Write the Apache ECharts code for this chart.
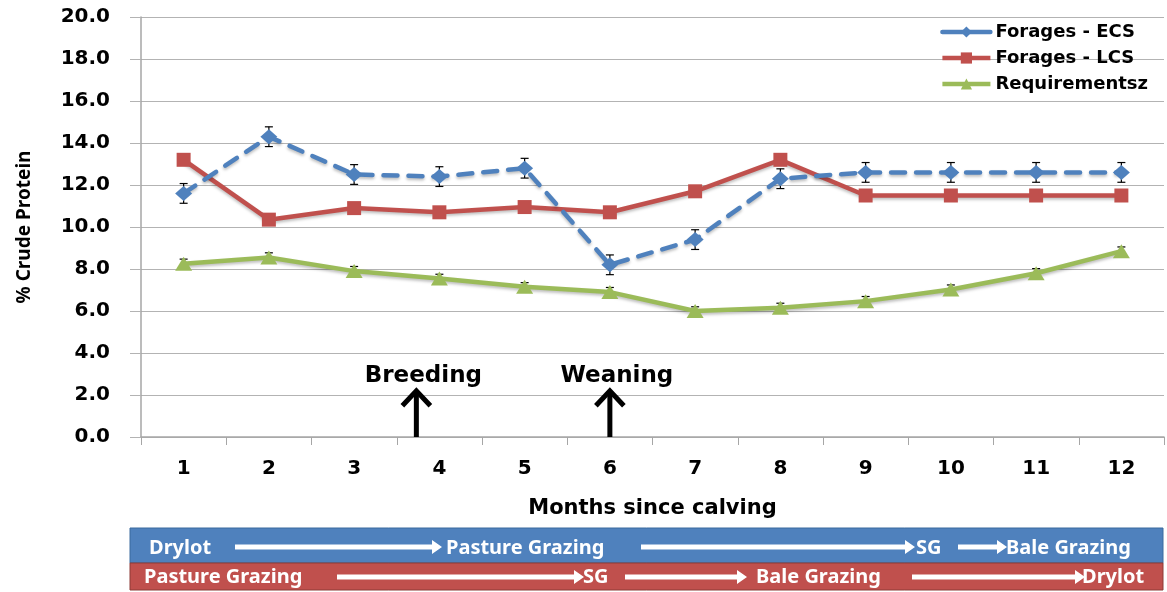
<!DOCTYPE html>
<html>
<head>
<meta charset="utf-8">
<script src="https://cdn.jsdelivr.net/npm/echarts@6/dist/echarts.min.js"></script>
<style>
  html, body { margin: 0; padding: 0; background: #fff; }
  #chart { width: 1167px; height: 592px; }
</style>
</head>
<body>
<div id="chart"></div>
<script>
const months = ["1", "2", "3", "4", "5", "6", "7", "8", "9", "10", "11", "12"]
const yTicks = [0, 2, 4, 6, 8, 10, 12, 14, 16, 18, 20]

const ecsValues = [11.6, 14.3, 12.5, 12.4, 12.8, 8.2, 9.4, 12.3, 12.6, 12.6, 12.6, 12.6]
const ecsErrors = [0.47, 0.47, 0.47, 0.47, 0.47, 0.47, 0.47, 0.47, 0.47, 0.47, 0.47, 0.47]
const lcsValues = [13.2, 10.35, 10.9, 10.7, 10.95, 10.7, 11.7, 13.2, 11.5, 11.5, 11.5, 11.5]
const lcsErrors = [0.12, 0.12, 0.12, 0.12, 0.12, 0.12, 0.12, 0.12, 0.12, 0.12, 0.12, 0.12]
const reqValues = [8.25, 8.55, 7.9, 7.55, 7.15, 6.9, 6.0, 6.15, 6.47, 7.02, 7.8, 8.85]
const reqErrors = [0.22, 0.22, 0.22, 0.2, 0.2, 0.22, 0.2, 0.22, 0.22, 0.22, 0.22, 0.2]

const eventNames = ["Breeding", "Weaning"]
const eventMonths = [3.73, 6]

const ecsStages = ["Drylot", "Pasture Grazing", "SG", "Bale Grazing"]
const lcsStages = ["Pasture Grazing", "SG", "Bale Grazing", "Drylot"]

const BLUE = "#4f81bd"
const RED = "#c0504d"
const GREEN = "#9bbb59"
const GRID = "#b3b3b3"

const chart = echarts.init(document.getElementById("chart"))

function errorSeries(name, values, errs) {
  return {
    type: "custom",
    name: name,
    silent: true,
    z: 2,
    renderItem(params, api) {
      const lo = api.coord([api.value(0), api.value(1)])
      const hi = api.coord([api.value(0), api.value(2)])
      const w = 4
      const style = { stroke: "#000", lineWidth: 1.2 }
      return {
        type: "group",
        children: [
          { type: "line", shape: { x1: lo[0], y1: lo[1], x2: hi[0], y2: hi[1] }, style },
          { type: "line", shape: { x1: lo[0] - w, y1: lo[1], x2: lo[0] + w, y2: lo[1] }, style },
          { type: "line", shape: { x1: hi[0] - w, y1: hi[1], x2: hi[0] + w, y2: hi[1] }, style },
        ],
      }
    },
    data: values.map((v, i) => [i, v - errs[i], v + errs[i]]),
  }
}

const shadow = {
  shadowBlur: 3,
  shadowColor: "rgba(0,0,0,0.25)",
  shadowOffsetY: 2,
}

const option = {
  animation: false,
  backgroundColor: "#fff",
  grid: { left: 141, right: 3, top: 17, bottom: 155 },
  legend: {
    data: [
      { name: "Forages - ECS", lineStyle: { type: "solid", width: 4.5 } },
      { name: "Forages - LCS", lineStyle: { width: 4.5 } },
      { name: "Requirementsz", lineStyle: { width: 4.5 } },
    ],
    orient: "vertical",
    right: 14,
    top: 18,
    itemWidth: 48,
    itemHeight: 14,
    itemGap: 8,
    textStyle: {
      fontFamily: "DejaVu Sans",
      fontWeight: "bold",
      fontSize: 18,
      color: "#000",
    },
  },
  xAxis: {
    type: "category",
    data: months,
    name: "Months since calving",
    nameLocation: "middle",
    nameGap: 61,
    nameTextStyle: {
      fontFamily: "DejaVu Sans",
      fontWeight: "bold",
      fontSize: 21,
      color: "#000",
    },
    axisLine: { lineStyle: { color: "#a6a6a6", width: 1.5 } },
    axisTick: { show: true, length: 8, lineStyle: { color: "#a6a6a6" } },
    axisLabel: {
      margin: 22,
      fontFamily: "DejaVu Sans",
      fontWeight: "bold",
      fontSize: 20,
      color: "#000",
    },
  },
  yAxis: {
    type: "value",
    min: yTicks[0],
    max: yTicks[yTicks.length - 1],
    interval: 2,
    name: "% Crude Protein",
    nameLocation: "middle",
    nameGap: 107,
    nameTextStyle: {
      fontFamily: "Noto Sans",
      fontWeight: "bold",
      fontSize: 19,
      color: "#000",
    },
    axisLine: { show: true, lineStyle: { color: "#a6a6a6", width: 1.5 } },
    axisTick: { show: true, length: 11, lineStyle: { color: GRID } },
    splitLine: { lineStyle: { color: GRID, width: 1.2 } },
    axisLabel: {
      margin: 31,
      formatter: v => v.toFixed(1),
      fontFamily: "DejaVu Sans",
      fontWeight: "bold",
      fontSize: 20,
      color: "#000",
    },
  },
  series: [
    {
      name: "Forages - ECS",
      type: "line",
      data: ecsValues,
      z: 5,
      symbol: "diamond",
      symbolSize: [17, 15],
      itemStyle: { color: BLUE },
      lineStyle: { color: BLUE, width: 4.5, type: [14, 11], cap: "round", ...shadow },
    },
    {
      name: "Forages - LCS",
      type: "line",
      data: lcsValues,
      z: 3,
      symbol: "rect",
      symbolSize: 14,
      itemStyle: { color: RED },
      lineStyle: { color: RED, width: 4.5, ...shadow },
    },
    {
      name: "Requirementsz",
      type: "line",
      data: reqValues,
      z: 3,
      symbol: "triangle",
      symbolSize: [17, 14],
      itemStyle: { color: GREEN },
      lineStyle: { color: GREEN, width: 4.5, ...shadow },
    },
    errorSeries("ecs-err", ecsValues, ecsErrors),
    errorSeries("lcs-err", lcsValues, lcsErrors),
    errorSeries("req-err", reqValues, reqErrors),
  ],
}

chart.setOption(option)

// annotations and stage bands
function monthToX(m) {
  const i = Math.floor(m) - 1
  const f = m - Math.floor(m)
  const a = chart.convertToPixel({ xAxisIndex: 0 }, i)
  if (f === 0) return a
  const b = chart.convertToPixel({ xAxisIndex: 0 }, i + 1)
  return a + (b - a) * f
}

const yPix = v => chart.convertToPixel({ yAxisIndex: 0 }, v)

const graphics = []

eventNames.forEach((name, k) => {
  const x = monthToX(eventMonths[k])
  const y0 = yPix(0)
  const y1 = yPix(2.2)
  const stroke = { stroke: "#000", lineWidth: 5, fill: null }
  graphics.push(
    { type: "line", shape: { x1: x, y1: y0, x2: x, y2: y1 }, style: stroke, z: 10 },
    { type: "polyline", shape: { points: [[x - 14, y1 + 15], [x, y1], [x + 14, y1 + 15]] }, style: stroke, z: 10 },
    {
      type: "text",
      x: x + 7,
      y: yPix(2.9),
      z: 10,
      style: {
        text: name,
        align: "center",
        verticalAlign: "middle",
        font: "bold 23px 'DejaVu Sans'",
        fill: "#000",
      },
    }
  )
})

function whiteArrow(x1, x2, y) {
  return {
    type: "polygon",
    z: 12,
    shape: {
      points: [
        [x1, y - 2.5], [x2 - 10, y - 2.5], [x2 - 10, y - 7], [x2, y],
        [x2 - 10, y + 7], [x2 - 10, y + 2.5], [x1, y + 2.5],
      ],
    },
    style: { fill: "#fff" },
  }
}

function bandText(text, x, y) {
  return {
    type: "text",
    x, y, z: 12,
    style: {
      text,
      verticalAlign: "middle",
      font: "bold 20px 'Noto Sans'",
      fill: "#fff",
    },
  }
}

const bandLeft = 130
const bandRight = 1163
graphics.push(
  { type: "rect", z: 11, shape: { x: bandLeft, y: 528, width: bandRight - bandLeft, height: 35 }, style: { fill: BLUE, stroke: "#3a6a9e", lineWidth: 1 } },
  { type: "rect", z: 11, shape: { x: bandLeft, y: 563, width: bandRight - bandLeft, height: 27 }, style: { fill: RED, stroke: "#8c3a37", lineWidth: 1 } }
)

const ecsTextX = [149, 446, 916, 1006]
const ecsArrows = [[235, 442], [641, 915], [958, 1007]]
const lcsTextX = [144, 583, 756, 1082]
const lcsArrows = [[337, 584], [625, 747], [912, 1085]]

ecsStages.forEach((s, i) => graphics.push(bandText(s, ecsTextX[i], 548)))
ecsArrows.forEach(a => graphics.push(whiteArrow(a[0], a[1], 547)))
lcsStages.forEach((s, i) => graphics.push(bandText(s, lcsTextX[i], 577)))
lcsArrows.forEach(a => graphics.push(whiteArrow(a[0], a[1], 577)))

chart.setOption({ graphic: graphics })
</script>
</body>
</html>
